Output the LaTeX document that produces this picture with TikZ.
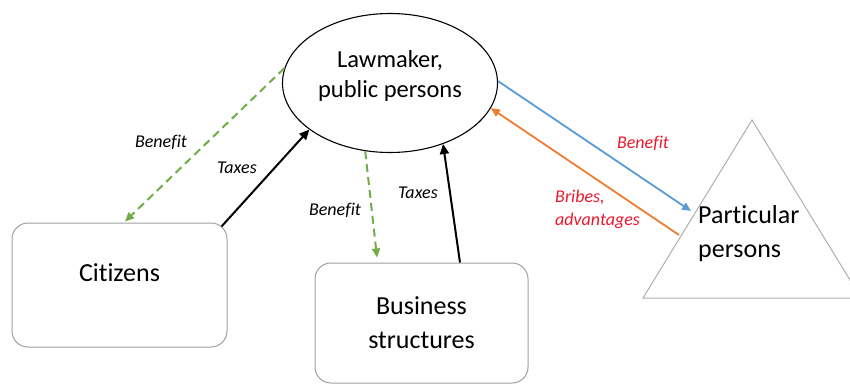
\documentclass[tikz,border=0pt]{standalone}
\usepackage{fontspec}
\setmainfont{Carlito}[Ligatures=CommonOff]
\usetikzlibrary{shapes.geometric,arrows.meta,calc}
\definecolor{offgreen}{RGB}{112,173,71}
\definecolor{offblue}{RGB}{91,155,213}
\definecolor{offorange}{RGB}{237,125,49}
\definecolor{boxgray}{RGB}{160,160,160}
\definecolor{lblred}{RGB}{235,25,45}
\begin{document}
\begin{tikzpicture}[x=1pt,y=-1pt,
  roundbox/.style={draw=boxgray,line width=1pt,rounded corners=16pt,inner sep=0pt,align=center,font=\fontsize{26}{34}\selectfont},
  lawnode/.style={draw=black,line width=1.1pt,ellipse,inner sep=0pt,align=center,font=\fontsize{24.5}{30}\selectfont},
  lbl/.style={font=\fontsize{18}{23}\selectfont\itshape,inner sep=0pt},
  benefitarrow/.style={draw=offgreen,line width=2pt,dash pattern=on 8pt off 5pt,-{Triangle[length=9pt,width=8pt]}},
  taxarrow/.style={draw=black,line width=2pt,-{Triangle[length=10pt,width=9pt]}},
  bluearrow/.style={draw=offblue,line width=1.8pt,-{Triangle[length=9pt,width=8pt]}},
  orangearrow/.style={draw=offorange,line width=1.8pt,-{Triangle[length=9pt,width=8pt]}},
  tri/.style={draw=boxgray!85,line width=1pt}]
\useasboundingbox (0,0) rectangle (850,385);
\node[lawnode,minimum width=215pt,minimum height=139pt] (law) at (390,83) {Lawmaker,\\public persons\\[-12pt]\mbox{}};
\node[roundbox,minimum width=215pt,minimum height=124pt,text depth=24pt] (cit) at (119.5,285) {Citizens};
\node[roundbox,minimum width=213pt,minimum height=120pt] (bus) at (421.5,323) {Business\\structures};
\draw[tri] (752,120) -- (643,298) -- (861,298) -- cycle;
\node[align=left,anchor=west,inner sep=0pt,font=\fontsize{26}{34}\selectfont] (pp) at (698,234) {Particular\\persons};
\coordinate (tb) at (691,211);
\coordinate (to) at (679,235);
% connectors
\draw[benefitarrow] (law.172) -- ($(cit.north)+(5.5,-1)$);
\draw[taxarrow] ($(cit.north east)+(-6,4)$) -- (law.210);
\draw[benefitarrow] (law.250) -- ($(bus.north)+(-44.5,-5)$);
\draw[taxarrow] ($(bus.north)+(38.5,0)$) -- (law.311);
\draw[bluearrow] (law.1) -- (tb);
\draw[orangearrow] (to) -- (law.346);
% labels
\node[lbl] (l1) at (161,142) {Benefit};
\node[lbl] (l2) at (237,168) {Taxes};
\node[lbl] (l3) at (335,210) {Benefit};
\node[lbl] (l4) at (418,193) {Taxes};
\node[lbl,text=lblred] (l5) at (643,143) {Benefit};
\node[lbl,text=lblred,align=left,anchor=west] (l6) at (555,209) {Bribes,\\advantages};
\end{tikzpicture}
\end{document}
